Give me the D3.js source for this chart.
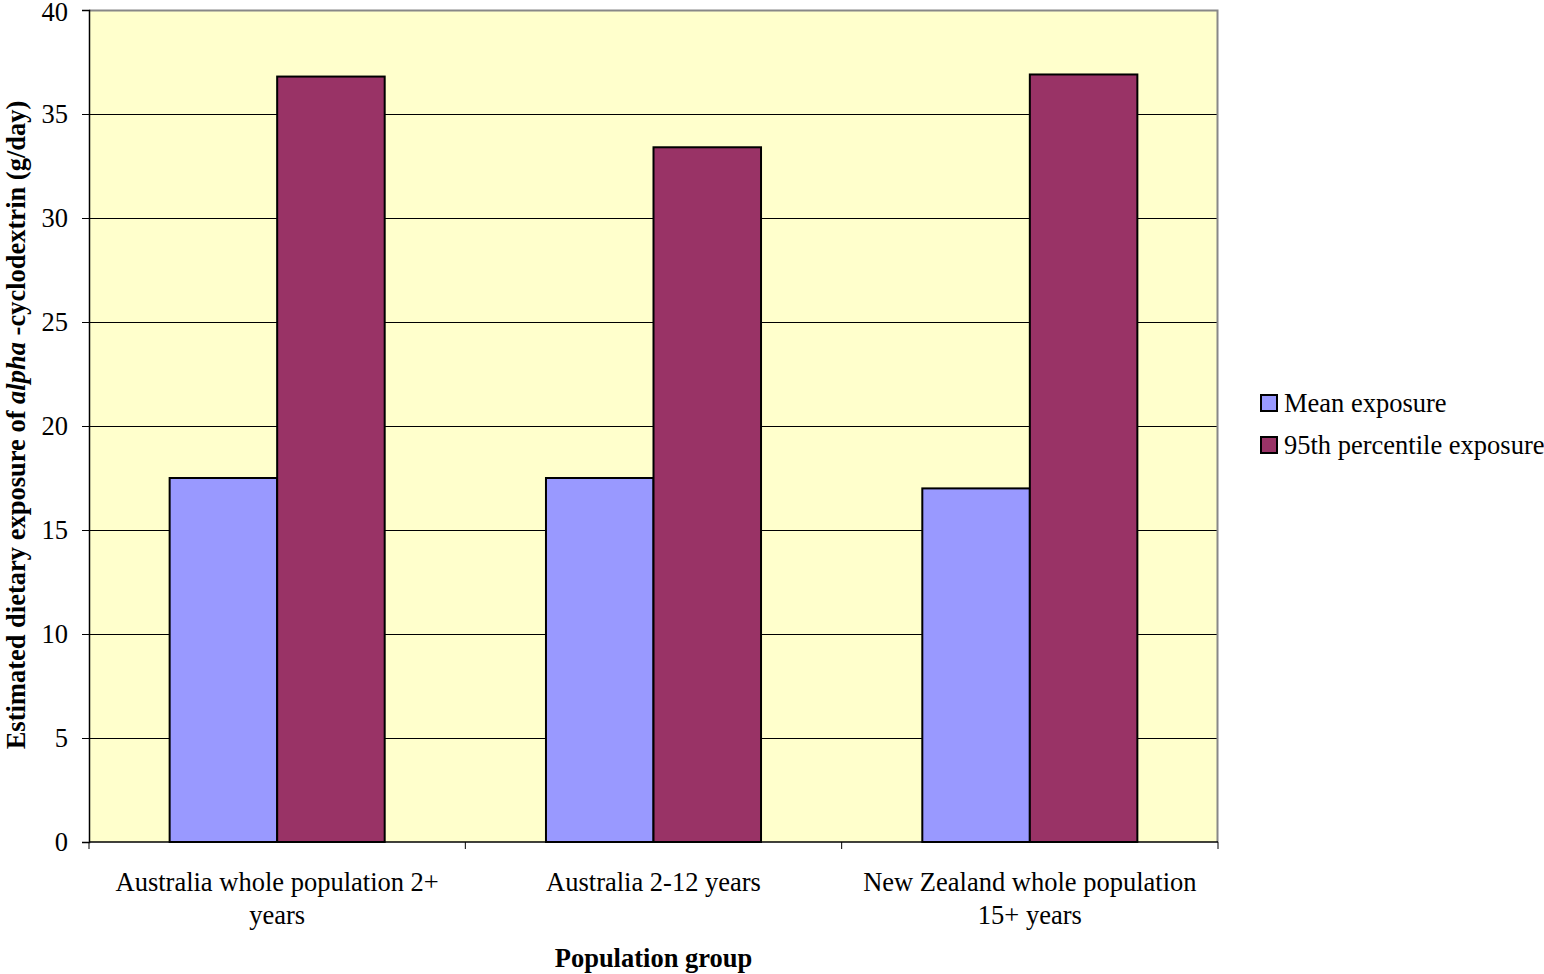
<!DOCTYPE html>
<html>
<head>
<meta charset="utf-8">
<script src="https://cdn.jsdelivr.net/npm/d3@7"></script>
<style>
  html, body { margin: 0; padding: 0; background: #ffffff; }
  svg { display: block; font-family: "Liberation Serif", "Times New Roman", serif; }
</style>
</head>
<body>
<svg id="chart" width="1544" height="974"></svg>
<script>
// Estimated dietary exposure of alpha-cyclodextrin by population group
const groups = [
  ["Australia whole population 2+", "years"],
  ["Australia 2-12 years"],
  ["New Zealand whole population", "15+ years"]
];
const seriesNames = ["Mean exposure", "95th percentile exposure"];
const meanExposure = [17.5, 17.5, 17.0];
const p95Exposure = [36.8, 33.4, 36.9];
const yTicks = [0, 5, 10, 15, 20, 25, 30, 35, 40];
const seriesColors = ["#9999FF", "#993366"];

const FONT = 26.5;
const svg = d3.select("#chart");
const plot = { left: 89, right: 1218, top: 10, bottom: 842 };

const x = d3.scaleBand()
  .domain(d3.range(groups.length))
  .range([plot.left, plot.right])
  .paddingInner(0)
  .paddingOuter(0);

const inner = d3.scaleBand()
  .domain(d3.range(seriesNames.length))
  .range([0, x.bandwidth()])
  .paddingOuter(0.75)
  .paddingInner(0);

const y = d3.scaleLinear().domain([0, 40]).range([plot.bottom, plot.top]);

// plot background
svg.append("rect")
  .attr("x", plot.left).attr("y", plot.top)
  .attr("width", plot.right - plot.left).attr("height", plot.bottom - plot.top)
  .attr("fill", "#FFFFCC");

// horizontal gridlines
svg.append("g")
  .selectAll("line")
  .data(yTicks.filter(d => d > 0 && d < 40))
  .join("line")
  .attr("x1", plot.left).attr("x2", plot.right)
  .attr("y1", d => Math.round(y(d)) + 0.5).attr("y2", d => Math.round(y(d)) + 0.5)
  .attr("stroke", "#000").attr("stroke-width", 1);

// plot border (top and right in grey)
svg.append("path")
  .attr("d", `M${plot.left},${plot.top + 0.5}H${plot.right - 0.5}V${plot.bottom}`)
  .attr("fill", "none").attr("stroke", "#888").attr("stroke-width", 2);

// bars
const seriesData = [meanExposure, p95Exposure];
groups.forEach((g, i) => {
  seriesData.forEach((vals, s) => {
    svg.append("rect")
      .attr("x", x(i) + inner(s))
      .attr("y", y(vals[i]))
      .attr("width", inner.bandwidth())
      .attr("height", y(0) - y(vals[i]))
      .attr("fill", seriesColors[s])
      .attr("stroke", "#000")
      .attr("stroke-width", 2);
  });
});

// y axis
const yAxis = d3.axisLeft(y).tickValues(yTicks).tickSize(7).tickPadding(14);
const yg = svg.append("g").attr("transform", `translate(${plot.left},0)`).call(yAxis);
yg.select(".domain").attr("stroke", "#000").attr("stroke-width", 1.5);
yg.selectAll(".tick line").attr("stroke", "#000");
yg.selectAll(".tick text")
  .attr("font-size", FONT).attr("fill", "#000")
  .attr("font-family", "Liberation Serif, Times New Roman, serif")
  // keep the topmost label inside the page
  .attr("dy", d => d === 40 ? "0.4em" : "0.32em");

// x axis: tick marks at group boundaries
const boundaries = d3.range(groups.length + 1).map(i => plot.left + i * x.bandwidth());
svg.append("line")
  .attr("x1", plot.left).attr("x2", plot.right)
  .attr("y1", plot.bottom).attr("y2", plot.bottom)
  .attr("stroke", "#000").attr("stroke-width", 1.5);
svg.append("g").selectAll("line")
  .data(boundaries)
  .join("line")
  .attr("x1", d => d).attr("x2", d => d)
  .attr("y1", plot.bottom).attr("y2", plot.bottom + 7)
  .attr("stroke", "#000");

// category labels
const catLabels = svg.append("g")
  .attr("font-size", FONT).attr("fill", "#000").attr("text-anchor", "middle");
groups.forEach((lines, i) => {
  const t = catLabels.append("text")
    .attr("x", x(i) + x.bandwidth() / 2)
    .attr("y", 891);
  lines.forEach((ln, k) => {
    t.append("tspan")
      .attr("x", x(i) + x.bandwidth() / 2)
      .attr("dy", k === 0 ? 0 : 33)
      .text(ln);
  });
});

// axis titles
svg.append("text")
  .attr("x", (plot.left + plot.right) / 2)
  .attr("y", 967)
  .attr("text-anchor", "middle")
  .attr("font-size", FONT).attr("font-weight", "bold")
  .text("Population group");

const yTitle = svg.append("text")
  .attr("transform", `translate(25,${(plot.top + plot.bottom) / 2 - 1}) rotate(-90)`)
  .attr("text-anchor", "middle")
  .attr("font-size", FONT).attr("font-weight", "bold");
yTitle.append("tspan").text("Estimated dietary exposure of ");
yTitle.append("tspan").attr("font-style", "italic").text("alpha");
yTitle.append("tspan").text(" -cyclodextrin (g/day)");

// legend
const legend = svg.append("g").attr("transform", "translate(1261,395)");
seriesNames.forEach((name, i) => {
  const row = legend.append("g").attr("transform", `translate(0,${i * 42})`);
  row.append("rect")
    .attr("x", 0).attr("y", 0).attr("width", 16).attr("height", 16)
    .attr("fill", seriesColors[i]).attr("stroke", "#000").attr("stroke-width", 2);
  row.append("text")
    .attr("x", 23).attr("y", 17)
    .attr("font-size", FONT).attr("fill", "#000")
    .text(name);
});
</script>
</body>
</html>
